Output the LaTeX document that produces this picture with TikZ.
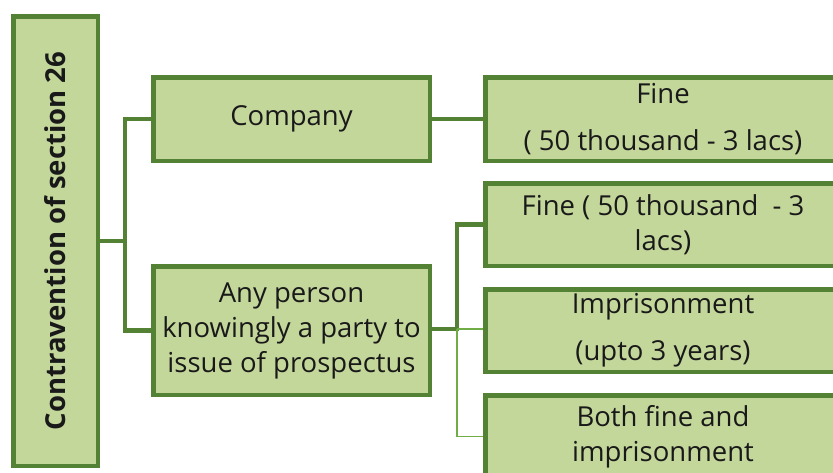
\documentclass[tikz,border=0pt]{standalone}
\usepackage{fontspec}
\setmainfont{Open Sans}
\definecolor{boxfill}{RGB}{196,215,155}
\definecolor{boxline}{RGB}{84,130,53}
\definecolor{thinline}{RGB}{112,173,71}
\begin{document}
\begin{tikzpicture}[x=1pt,y=-1pt,
 every edge/.style = {draw=boxline,line width=4.5pt,line cap=rect},
 elbow/.style = {to path={|- (\tikztotarget)}},
 thin/.style = {draw=thinline,line width=1.6pt},
 blk/.style args = {#1/#2}{rectangle, draw=boxline, fill=boxfill, line width=4.5pt,
   minimum width=#1pt, minimum height=#2pt, inner sep=0pt, align=center,
   text=black!90, font=\fontsize{27.5}{35}\selectfont}]

\useasboundingbox (0,0) rectangle (833,472);

\node(root) [blk=449.5/84.5, rotate=90, font=\fontsize{27.5}{35}\selectfont\bfseries] at (55.5,241) {Contravention of section 26};

\node(comp) [blk=276.5/83.5] at (291.5,119) {Company};
\node(pers) [blk=276.5/128.5] at (291.5,330.5) {Any person\\knowingly a party to\\issue of prospectus};

\node(fine1) [blk=355.5/83.5] at (663,119) {Fine\\[12pt]( 50 thousand - 3 lacs)};
\node(fine2) [blk=355.5/82.5] at (663,224.5) {Fine ( 50 thousand \ - 3\\lacs)};
\node(impr) [blk=355.5/82.5] at (663,330.5) {Imprisonment\\[12pt](upto 3 years)};
\node(both) [blk=355.5/82.5] at (663,436.5) {Both fine and\\imprisonment};

\coordinate (j1) at (125,241);
\coordinate (j2) at (457,329);
%
\path   (root.south |- j1) edge (j1)
        (j1) edge [elbow] (comp.west)
        (j1) edge [elbow] (pers.west)
        (comp.east) edge (fine1.west)
        (pers.east |- j2) edge (j2)
        (j2) edge [elbow] (fine2.west);
\draw[thin] (j2) -- (impr.west |- j2);
\draw[thin] (j2) |- (both.west);

\end{tikzpicture}
\end{document}
